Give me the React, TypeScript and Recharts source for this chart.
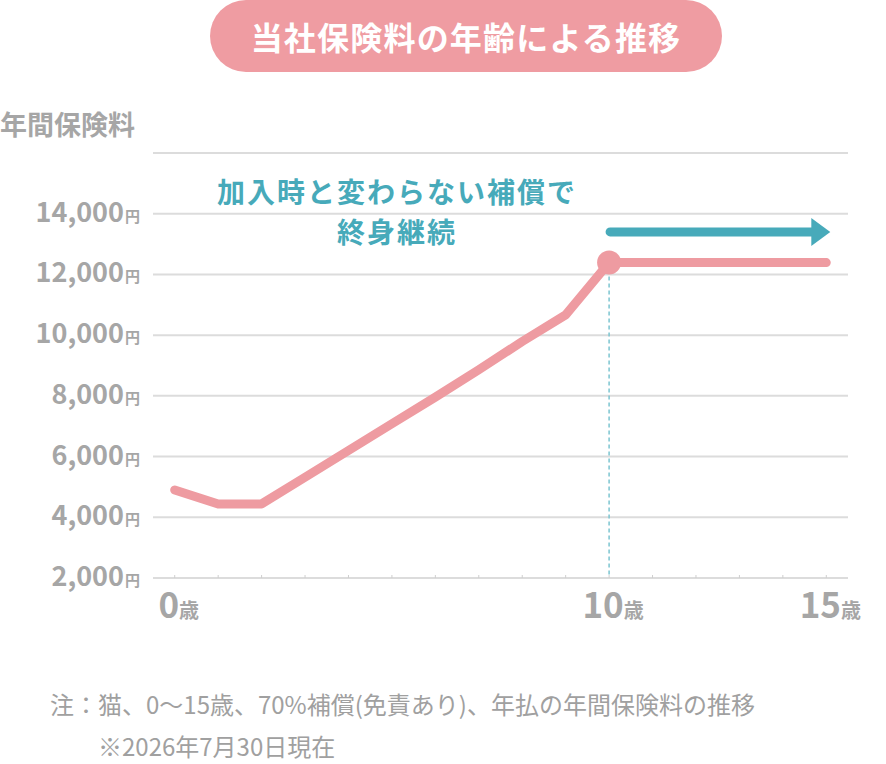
import { LineChart, Line, XAxis, YAxis, CartesianGrid, ReferenceLine } from 'recharts';

const ages = [0, 1, 2, 3, 4, 5, 6, 7, 8, 9, 10, 11, 12, 13, 14, 15];
const premiums = [4900, 4440, 4440, 5320, 6200, 7080, 7960, 8860, 9790, 10670, 12390, 12390, 12390, 12390, 12390, 12390];
const yTicks = [2000, 4000, 6000, 8000, 10000, 12000, 14000, 16000];
const xLabelAges = [0, 10, 15];
const highlightAge = 10;
const arrowFrom = 10;
const arrowTo = 15;
const arrowLevel = 13400;

const title = '当社保険料の年齢による推移';
const yAxisTitle = '年間保険料';
const noteLines = ['加入時と変わらない補償で', '終身継続'];
const footnote1 = '注：猫、0〜15歳、70%補償(免責あり)、年払の年間保険料の推移';
const footnote2 = '※2026年7月30日現在';

const PINK = '#ee9ba1';
const TEAL = '#47aaba';
const GRAY = '#a6a6a6';
const FONT = "'Noto Sans CJK JP', 'Noto Sans', sans-serif";

const data = ages.map((age, i) => ({ age, premium: premiums[i] }));

function YTick({ x, y, payload }: any) {
  if (payload.value === 16000) return null;
  return (
    <text x={x} y={y + 8} textAnchor="end" fill={GRAY} fontFamily={FONT} fontWeight={700}>
      <tspan fontSize={27}>{payload.value.toLocaleString('en-US')}</tspan>
      <tspan fontSize={15} dx={1}>円</tspan>
    </text>
  );
}

function XTick({ x, y, payload }: any) {
  return (
    <g>
      <line x1={x} x2={x} y1={y - 3} y2={y} stroke="#cfcfcf" strokeWidth={1} />
      {xLabelAges.includes(payload.value) && (
        <text x={x + 4} y={y + 40} textAnchor="middle" fill={GRAY} fontFamily={FONT} fontWeight={700}>
          <tspan fontSize={35}>{payload.value}</tspan>
          <tspan fontSize={20}>歳</tspan>
        </text>
      )}
    </g>
  );
}

function HighlightDot({ cx, cy, payload }: any) {
  if (payload.age !== highlightAge) return <g />;
  return <circle cx={cx} cy={cy} r={12} fill={PINK} />;
}

function Arrow({ x1, y1, x2 }: any) {
  const tip = x2 + 4;
  return (
    <g>
      <line x1={x1 + 1} y1={y1} x2={tip - 16} y2={y1} stroke={TEAL} strokeWidth={9} strokeLinecap="round" />
      <polygon points={`${tip - 19},${y1 - 14} ${tip},${y1} ${tip - 19},${y1 + 14}`} fill={TEAL} />
    </g>
  );
}

export default function App() {
  return (
    <div style={{ position: 'absolute', left: 0, top: 0, width: 886, height: 764, fontFamily: FONT, background: '#fff' }}>
      <LineChart width={886} height={764} data={data} margin={{ top: 153, right: 38, bottom: 136, left: 8 }}>
        <CartesianGrid vertical={false} stroke="#dcdcdc" strokeWidth={2} />
        <XAxis
          dataKey="age"
          type="number"
          domain={[-0.5, 15.5]}
          ticks={ages}
          interval={0}
          height={50}
          tickSize={0}
          tickMargin={0}
          tickLine={false}
          axisLine={{ stroke: '#dcdcdc', strokeWidth: 2 }}
          tick={<XTick />}
        />
        <YAxis
          type="number"
          domain={[2000, 16000]}
          ticks={yTicks}
          interval={0}
          width={145}
          tickSize={0}
          tickMargin={13}
          tickLine={false}
          axisLine={false}
          tick={<YTick />}
        />
        <ReferenceLine
          segment={[{ x: highlightAge, y: premiums[ages.indexOf(highlightAge)] }, { x: highlightAge, y: 2000 }]}
          stroke="#7cc5d0"
          strokeWidth={1.5}
          strokeDasharray="4 3"
        />
        <ReferenceLine
          segment={[{ x: arrowFrom, y: arrowLevel }, { x: arrowTo, y: arrowLevel }]}
          shape={<Arrow />}
        />
        <Line
          type="linear"
          dataKey="premium"
          stroke={PINK}
          strokeWidth={9}
          strokeLinecap="round"
          strokeLinejoin="round"
          dot={<HighlightDot />}
          activeDot={false}
          isAnimationActive={false}
        />
      </LineChart>

      <div
        style={{
          position: 'absolute', left: 210, top: 0, width: 512, height: 72, borderRadius: 36,
          background: '#ef9ca2', color: '#fff', fontSize: 32, fontWeight: 700,
          display: 'flex', alignItems: 'center', justifyContent: 'center', letterSpacing: 1.2,
        }}
      >
        {title}
      </div>

      <div style={{ position: 'absolute', left: 0, top: 105, fontSize: 27, lineHeight: '38px', fontWeight: 700, color: GRAY, whiteSpace: 'nowrap' }}>
        {yAxisTitle}
      </div>

      <div
        style={{
          position: 'absolute', left: 147, top: 171, width: 500, textAlign: 'center',
          fontSize: 28, lineHeight: '40px', fontWeight: 700, color: TEAL, letterSpacing: 2,
        }}
      >
        {noteLines.map((l) => (
          <div key={l}>{l}</div>
        ))}
      </div>

      <div style={{ position: 'absolute', left: 50, top: 687, fontSize: 24, lineHeight: '34px', color: '#a0a0a0', whiteSpace: 'nowrap' }}>
        {footnote1}
      </div>
      <div style={{ position: 'absolute', left: 98, top: 729, fontSize: 24, lineHeight: '34px', color: '#a0a0a0', whiteSpace: 'nowrap' }}>
        {footnote2}
      </div>
    </div>
  );
}
